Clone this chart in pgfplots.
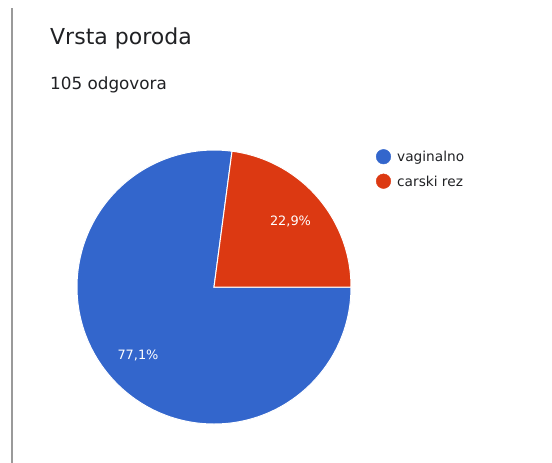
\documentclass[border=0pt]{standalone}
\usepackage{fontspec}
\setmainfont{DejaVu Sans}
\usepackage{pgfplots}
\pgfplotsset{compat=1.18}
\definecolor{gblue}{HTML}{3366CC}
\definecolor{gred}{HTML}{DC3912}
\definecolor{gtext}{HTML}{202124}
\definecolor{gline}{HTML}{9A9A9A}
\def\pA{77.1}
\def\pB{22.9}
\begin{document}
\begin{tikzpicture}
\begin{axis}[
  scale only axis, width=552pt, height=463pt,
  xmin=0, xmax=552, ymin=0, ymax=463, y dir=reverse,
  hide axis, clip=true,
]
% left border line
\addplot[gline, line width=1.5pt] coordinates {(12,8) (12,463)};
% blue slice (vaginalno)
\addplot[fill=gblue, draw=white, line width=1pt] coordinates {(214,287) (351,287)}
  arc[start angle=0, end angle={-\pA*3.6}, radius=137pt] -- cycle;
% red slice (carski rez)
\addplot[fill=gred, draw=white, line width=1pt] coordinates {(214,287) (351,287)}
  arc[start angle=0, end angle={\pB*3.6}, radius=137pt] -- cycle;
% legend markers
\addplot[only marks, mark=*, mark size=7.3pt, gblue, mark options={draw=gblue, fill=gblue}] coordinates {(383.5,156.7)};
\addplot[only marks, mark=*, mark size=7.3pt, gred, mark options={draw=gred, fill=gred}] coordinates {(383.5,181.2)};
% texts
\node[anchor=base west, inner sep=0pt, text=gtext, font=\fontsize{22}{26}\selectfont] at (axis cs:50,45) {Vrsta poroda};
\node[anchor=base west, inner sep=0pt, text=gtext, font=\fontsize{16.8}{20}\selectfont] at (axis cs:50,89) {105 odgovora};
\node[anchor=base west, inner sep=0pt, text=gtext, font=\fontsize{13.7}{16}\selectfont] at (axis cs:397,161.7) {vaginalno};
\node[anchor=base west, inner sep=0pt, text=gtext, font=\fontsize{13.7}{16}\selectfont] at (axis cs:397,186.2) {carski rez};
\node[anchor=center, inner sep=0pt, text=white, font=\fontsize{12.9}{15}\selectfont] at (axis cs:290.5,221.5) {22,9\%};
\node[anchor=center, inner sep=0pt, text=white, font=\fontsize{12.9}{15}\selectfont] at (axis cs:138,355.5) {77,1\%};
\end{axis}
\path (current axis.south west) rectangle (current axis.north east);
\end{tikzpicture}
\end{document}
